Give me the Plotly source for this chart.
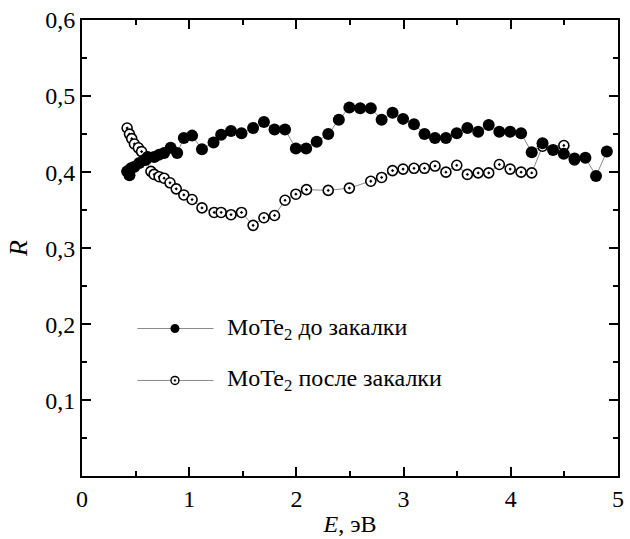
import plotly.graph_objects as go

# Reflectance R(E) of MoTe2 before quenching (filled) and after quenching (open)
e_before = [0.421, 0.443, 0.458, 0.489, 0.535, 0.581, 0.612, 0.673, 0.720, 0.766,
            0.827, 0.888, 0.950, 1.027, 1.119, 1.227, 1.298, 1.390, 1.488, 1.596,
            1.697, 1.796, 1.894, 1.995, 2.091, 2.189, 2.297, 2.396, 2.494, 2.595,
            2.694, 2.795, 2.897, 2.995, 3.097, 3.195, 3.293, 3.395, 3.496, 3.595,
            3.696, 3.794, 3.893, 3.994, 4.096, 4.195, 4.296, 4.394, 4.494, 4.594,
            4.696, 4.795, 4.896]
r_before = [0.401, 0.396, 0.405, 0.407, 0.412, 0.416, 0.420, 0.420, 0.423, 0.425,
            0.432, 0.425, 0.445, 0.448, 0.430, 0.439, 0.449, 0.454, 0.451, 0.458,
            0.466, 0.456, 0.456, 0.431, 0.431, 0.440, 0.450, 0.469, 0.485, 0.484,
            0.484, 0.469, 0.478, 0.470, 0.463, 0.450, 0.445, 0.445, 0.451, 0.458,
            0.453, 0.462, 0.453, 0.453, 0.451, 0.426, 0.438, 0.429, 0.424, 0.418,
            0.419, 0.395, 0.427]

e_after = [0.421, 0.443, 0.464, 0.489, 0.526, 0.556, 0.597, 0.643, 0.673, 0.720,
           0.766, 0.821, 0.879, 0.950, 1.027, 1.119, 1.233, 1.298, 1.390, 1.488,
           1.596, 1.697, 1.796, 1.894, 1.995, 2.094, 2.297, 2.494, 2.694, 2.795,
           2.897, 2.995, 3.097, 3.195, 3.293, 3.395, 3.496, 3.595, 3.696, 3.794,
           3.893, 3.994, 4.096, 4.195, 4.296, 4.495, 4.594]
r_after = [0.458, 0.450, 0.444, 0.437, 0.432, 0.427, 0.416, 0.401, 0.397, 0.394,
           0.392, 0.386, 0.378, 0.370, 0.364, 0.353, 0.347, 0.347, 0.344, 0.347,
           0.330, 0.340, 0.343, 0.363, 0.371, 0.377, 0.376, 0.379, 0.388, 0.393,
           0.402, 0.404, 0.405, 0.405, 0.408, 0.400, 0.409, 0.397, 0.399, 0.399,
           0.410, 0.404, 0.400, 0.399, 0.434, 0.435, 0.416]

# Axis tick spacing (major / minor)
x_major, x_minor = 1, 0.5
y_major, y_minor = 0.1, 0.05

label_before = "MoTe<sub>2</sub> до закалки"
label_after = "MoTe<sub>2</sub> после закалки"

FONT = "Liberation Serif"
LINE_GREY = "#8a8a8a"

fig = go.Figure()

fig.add_trace(go.Scatter(
    x=e_after, y=r_after, mode="lines+markers", name=label_after,
    line=dict(color=LINE_GREY, width=1),
    marker=dict(symbol="circle-dot", size=10, color="white",
                line=dict(color="black", width=1.6)),
    showlegend=False,
))
fig.add_trace(go.Scatter(
    x=e_before, y=r_before, mode="lines+markers", name=label_before,
    line=dict(color=LINE_GREY, width=1),
    marker=dict(symbol="circle", size=12, color="black",
                line=dict(color="black", width=0)),
    showlegend=False,
))

axis_common = dict(
    showline=True, linecolor="black", linewidth=2, mirror="ticks",
    ticks="inside", ticklen=9, tickwidth=2, tickcolor="black",
    showgrid=False, zeroline=False,
    tickfont=dict(family=FONT, size=24, color="black"),
)

fig.update_xaxes(
    range=[0, 5], tickmode="linear", tick0=0, dtick=x_major,
    minor=dict(ticks="inside", dtick=x_minor, ticklen=5, tickwidth=2),
    title=dict(text="<i>E</i>, эВ", font=dict(family=FONT, size=24, color="black"), standoff=4),
    **axis_common,
)
# lower bound just above zero so the y axis carries no "0" label
fig.update_yaxes(
    range=[0.0005, 0.6], tickmode="linear", tick0=0, dtick=y_major, tickformat=".1f",
    minor=dict(ticks="inside", dtick=y_minor, ticklen=5, tickwidth=2),
    title=dict(text="<i>R</i>", font=dict(family=FONT, size=26, color="black"), standoff=10),
    **axis_common,
)

# Hand-built legend: line sample with a marker in the middle, then the label
PLOT_W, PLOT_H = 542, 456.7
legend_rows = [
    (329, label_before, True),
    (381, label_after, False),
]
shapes = []
annotations = []
for ypix, text, filled in legend_rows:
    yp = 1 - (ypix - 20) / PLOT_H
    xm = (176 - 82) / PLOT_W
    shapes.append(dict(type="line", xref="paper", yref="paper",
                       x0=(138 - 82) / PLOT_W, x1=(215 - 82) / PLOT_W, y0=yp, y1=yp,
                       line=dict(color=LINE_GREY, width=1)))
    r = 4.5 if filled else 4
    shapes.append(dict(type="circle", xref="paper", yref="paper",
                       xsizemode="pixel", ysizemode="pixel", xanchor=xm, yanchor=yp,
                       x0=-r, x1=r, y0=-r, y1=r,
                       fillcolor="black" if filled else "white",
                       line=dict(color="black", width=0 if filled else 1.4)))
    if not filled:
        shapes.append(dict(type="circle", xref="paper", yref="paper",
                           xsizemode="pixel", ysizemode="pixel", xanchor=xm, yanchor=yp,
                           x0=-0.9, x1=0.9, y0=-0.9, y1=0.9,
                           fillcolor="black", line=dict(color="black", width=0.5)))
    annotations.append(dict(xref="paper", yref="paper", x=(227 - 82) / PLOT_W, y=yp,
                            xanchor="left", yanchor="middle", showarrow=False, text=text,
                            font=dict(family=FONT, size=24, color="black")))

fig.update_layout(
    width=630, height=539,
    margin=dict(l=82, r=6, t=20, b=62),
    separators=", ",
    plot_bgcolor="white", paper_bgcolor="white",
    font=dict(family=FONT, color="black"),
    shapes=shapes, annotations=annotations,
)

fig.write_html("out.html")
